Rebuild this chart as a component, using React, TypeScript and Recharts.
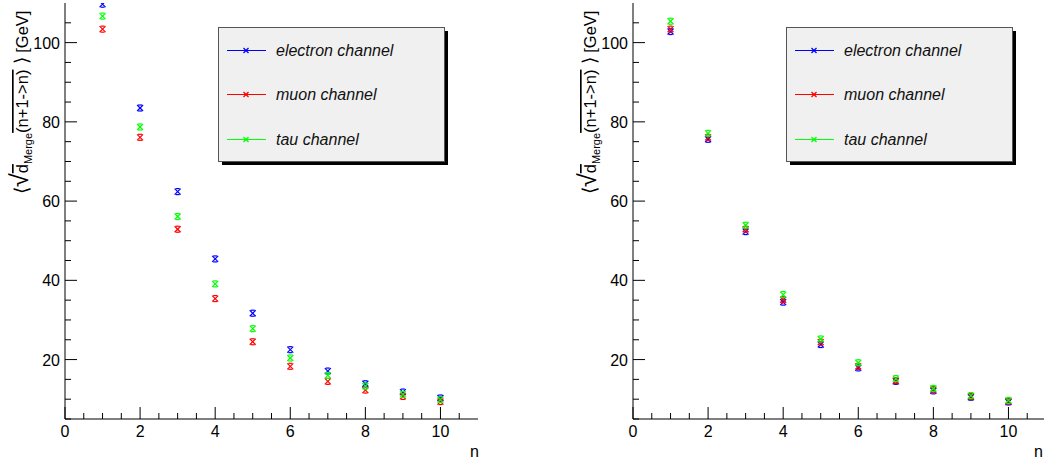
import React from 'react';
import { ScatterChart, Scatter, XAxis, YAxis } from 'recharts';

// jet multiplicity n
const nValues = [1, 2, 3, 4, 5, 6, 7, 8, 9, 10];

// left panel
const leftElectron = [109.7, 83.5, 62.4, 45.4, 31.7, 22.5, 17.1, 13.9, 11.8, 10.3];
const leftMuon = [103.4, 76.1, 52.9, 35.4, 24.5, 18.3, 14.5, 12.3, 10.7, 9.4];
const leftTau = [106.7, 78.7, 56.1, 39.1, 27.8, 20.4, 16.0, 13.3, 11.2, 9.9];

// right panel
const rightElectron = [102.8, 75.6, 52.3, 34.5, 23.8, 17.9, 14.5, 12.1, 10.5, 9.3];
const rightMuon = [103.4, 76.1, 52.9, 35.1, 24.4, 18.3, 14.7, 12.4, 10.7, 9.5];
const rightTau = [105.4, 77.1, 53.9, 36.4, 25.2, 19.2, 15.2, 12.7, 10.9, 9.7];

const channelNames = ['electron channel', 'muon channel', 'tau channel'];
const channelColors = ['#0000ff', '#ff0000', '#00ff00'];

const xTicks = [0, 0.5, 1, 1.5, 2, 2.5, 3, 3.5, 4, 4.5, 5, 5.5, 6, 6.5, 7, 7.5, 8, 8.5, 9, 9.5, 10, 10.5];
const xMajorTicks = [0, 2, 4, 6, 8, 10];
const yTicks = [5, 10, 15, 20, 25, 30, 35, 40, 45, 50, 55, 60, 65, 70, 75, 80, 85, 90, 95, 100, 105];
const yMajorTicks = [20, 40, 60, 80, 100];

const FONT = '"Liberation Sans", Arial, Helvetica, sans-serif';
const W = 522;
const H = 463;

const toPoints = (vals: number[]) => nValues.map((n, i) => ({ n, v: vals[i] }));

const crossShape = (color: string) => (props: any) => {
  const { cx, cy } = props;
  const s = 3;
  return (
    <g stroke={color} strokeWidth={1.2} fill="none">
      <line x1={cx - s} y1={cy - s} x2={cx + s} y2={cy + s} />
      <line x1={cx - s} y1={cy + s} x2={cx + s} y2={cy - s} />
      <line x1={cx - 2} y1={cy - s} x2={cx + 2} y2={cy - s} />
      <line x1={cx - 2} y1={cy + s} x2={cx + 2} y2={cy + s} />
    </g>
  );
};

const BottomTick = (props: any) => {
  const { x, y, payload } = props;
  const major = xMajorTicks.includes(payload.value);
  return (
    <g>
      <line x1={x} y1={y} x2={x} y2={y - (major ? 12 : 6)} stroke="#000" />
      {major && (
        <text x={x} y={y + 18} textAnchor="middle" fontSize={16} fontFamily={FONT} fill="#000">
          {payload.value}
        </text>
      )}
    </g>
  );
};

const TopTick = (props: any) => {
  const { x, y, payload } = props;
  const major = xMajorTicks.includes(payload.value);
  return <line x1={x} y1={y} x2={x} y2={y + (major ? 12 : 6)} stroke="#000" />;
};

const LeftTick = (props: any) => {
  const { x, y, payload } = props;
  const major = yMajorTicks.includes(payload.value);
  return (
    <g>
      <line x1={x} y1={y} x2={x + (major ? 12 : 6)} y2={y} stroke="#000" />
      {major && (
        <text x={x - 5} y={y + 6} textAnchor="end" fontSize={16} fontFamily={FONT} fill="#000">
          {payload.value}
        </text>
      )}
    </g>
  );
};

const RightTick = (props: any) => {
  const { x, y, payload } = props;
  const major = yMajorTicks.includes(payload.value);
  return <line x1={x} y1={y} x2={x - (major ? 12 : 6)} y2={y} stroke="#000" />;
};

const Panel = ({ left, series, nLabelX }: { left: number; series: number[][]; nLabelX: number }) => {
  return (
    <div style={{ position: 'absolute', left, top: 0, width: W, height: H }}>
      <ScatterChart width={W} height={H} margin={{ top: 3, right: 44, bottom: 0, left: 0 }}>
        <XAxis
          dataKey="n"
          type="number"
          domain={[0, 11]}
          ticks={xTicks}
          interval={0}
          allowDataOverflow
          height={44}
          tickSize={0}
          tickMargin={0}
          tickLine={false}
          axisLine={{ stroke: '#000' }}
          tick={<BottomTick />}
        />
        <XAxis
          xAxisId="top"
          orientation="top"
          type="number"
          domain={[0, 11]}
          ticks={xTicks}
          interval={0}
          allowDataOverflow
          height={0}
          tickSize={0}
          tickMargin={0}
          tickLine={false}
          axisLine={{ stroke: '#000' }}
          tick={<TopTick />}
        />
        <YAxis
          dataKey="v"
          type="number"
          domain={[5, 110]}
          ticks={yTicks}
          interval={0}
          allowDataOverflow
          width={65}
          tickSize={0}
          tickMargin={0}
          tickLine={false}
          axisLine={{ stroke: '#000' }}
          tick={<LeftTick />}
        />
        <YAxis
          yAxisId="right"
          orientation="right"
          type="number"
          domain={[5, 110]}
          ticks={yTicks}
          interval={0}
          allowDataOverflow
          width={0}
          tickSize={0}
          tickMargin={0}
          tickLine={false}
          axisLine={{ stroke: '#000' }}
          tick={<RightTick />}
        />
        {series.map((vals, i) => (
          <Scatter
            key={channelNames[i]}
            name={channelNames[i]}
            data={toPoints(vals)}
            fill={channelColors[i]}
            shape={crossShape(channelColors[i])}
            isAnimationActive={false}
          />
        ))}
      </ScatterChart>
      <svg
        width={W}
        height={H}
        style={{ position: 'absolute', left: 0, top: 0, pointerEvents: 'none' }}
        fontFamily={FONT}
      >
        {/* y axis title */}
        <text transform="translate(28, 194) rotate(-90)" fontSize={16.5} fill="#000">
          <tspan fontSize={19}>⟨</tspan>
          <tspan fontSize={25}>√</tspan>
          <tspan style={{ textDecoration: 'overline' }}>d</tspan>
          <tspan fontSize={11} dy={4}>Merge</tspan>
          <tspan dy={-4} style={{ textDecoration: 'overline' }}>(n+1-&gt;n)</tspan>
          <tspan fontSize={19}> ⟩</tspan>
          <tspan> [GeV]</tspan>
        </text>
        {/* x axis title */}
        <text x={nLabelX} y={457} textAnchor="end" fontSize={16} fill="#000">
          n
        </text>
        {/* legend */}
        <rect x={222} y={31} width={226} height={134} fill="#000" />
        <rect x={218.5} y={27.5} width={226} height={134} fill="#f0f0f0" stroke="#555" />
        {channelNames.map((name, i) => {
          const cy = 49.5 + i * 44.5;
          const ly = Math.round(cy) + 0.5;
          return (
            <g key={name}>
              <line x1={227} y1={ly} x2={266} y2={ly} stroke={channelColors[i]} />
              <g stroke={channelColors[i]} strokeWidth={1.2}>
                <line x1={243.5} y1={ly - 2.5} x2={248.5} y2={ly + 2.5} />
                <line x1={243.5} y1={ly + 2.5} x2={248.5} y2={ly - 2.5} />
              </g>
              <text x={276} y={ly + 5.5} fontSize={16} fontStyle="italic" fill="#111">
                {name}
              </text>
            </g>
          );
        })}
      </svg>
    </div>
  );
};

export default function App() {
  return (
    <div
      style={{
        position: 'fixed',
        left: 0,
        top: 0,
        width: 1044,
        height: 463,
        overflow: 'hidden',
        background: '#fff',
      }}
    >
      <Panel left={0} series={[leftElectron, leftMuon, leftTau]} nLabelX={479} />
      <Panel left={568} series={[rightElectron, rightMuon, rightTau]} nLabelX={475} />
    </div>
  );
}
